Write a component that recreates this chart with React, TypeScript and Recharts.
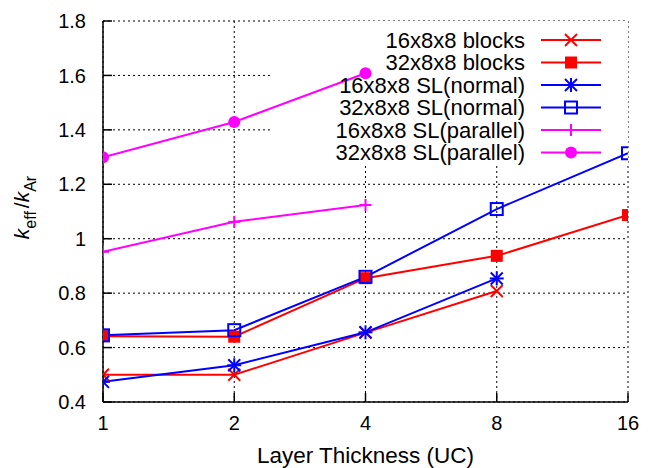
import React from "react"
import { CartesianGrid, Line, LineChart, ReferenceArea, XAxis, YAxis } from "recharts"

// layer thickness in unit cells (log2 axis)
const thickness = [1, 2, 4, 8, 16]
const yTicks = [0.4, 0.6, 0.8, 1.0, 1.2, 1.4, 1.6, 1.8]

// k_eff / k_Ar for each structure
const blocks16 = [0.5, 0.5, 0.655, 0.808]
const blocks32 = [0.642, 0.64, 0.855, 0.937, 1.087]
const slNormal16 = [0.474, 0.535, 0.656, 0.854]
const slNormal32 = [0.645, 0.664, 0.86, 1.109, 1.314]
const slParallel16 = [0.952, 1.062, 1.124]
const slParallel32 = [1.299, 1.429, 1.608]

const RED = "#ff0000"
const BLUE = "#0000ff"
const MAGENTA = "#ff00ff"
const FONT = "'Liberation Sans', Arial, Helvetica, sans-serif"

type MarkerKind = "cross" | "square" | "star" | "openSquare" | "plus" | "circle"

const series: { name: string; values: number[]; color: string; marker: MarkerKind }[] = [
    { name: "16x8x8 blocks", values: blocks16, color: RED, marker: "cross" },
    { name: "32x8x8 blocks", values: blocks32, color: RED, marker: "square" },
    { name: "16x8x8 SL(normal)", values: slNormal16, color: BLUE, marker: "star" },
    { name: "32x8x8 SL(normal)", values: slNormal32, color: BLUE, marker: "openSquare" },
    { name: "16x8x8 SL(parallel)", values: slParallel16, color: MAGENTA, marker: "plus" },
    { name: "32x8x8 SL(parallel)", values: slParallel32, color: MAGENTA, marker: "circle" },
]

// opaque key background (sits under the lines, over the grid)
const KEY_BOX = { x1: 2.42, x2: 16, y1: 1.27, y2: 1.8 }

function Marker({ kind, cx, cy, color }: { kind: MarkerKind; cx: number; cy: number; color: string }) {
    const s = 6
    switch (kind) {
        case "cross":
            return (
                <g stroke={color} strokeWidth={2}>
                    <line x1={cx - s} y1={cy - s} x2={cx + s} y2={cy + s} />
                    <line x1={cx - s} y1={cy + s} x2={cx + s} y2={cy - s} />
                </g>
            )
        case "square":
            return <rect x={cx - s} y={cy - s} width={2 * s} height={2 * s} fill={color} />
        case "star":
            return (
                <g stroke={color} strokeWidth={2}>
                    <line x1={cx - s} y1={cy - s} x2={cx + s} y2={cy + s} />
                    <line x1={cx - s} y1={cy + s} x2={cx + s} y2={cy - s} />
                    <line x1={cx} y1={cy - s - 1} x2={cx} y2={cy + s + 1} />
                    <line x1={cx - s - 1} y1={cy} x2={cx + s + 1} y2={cy} />
                </g>
            )
        case "openSquare":
            return <rect x={cx - s} y={cy - s} width={2 * s} height={2 * s} fill="none" stroke={color} strokeWidth={2} />
        case "plus":
            return (
                <g stroke={color} strokeWidth={2}>
                    <line x1={cx} y1={cy - s} x2={cx} y2={cy + s} />
                    <line x1={cx - s} y1={cy} x2={cx + s} y2={cy} />
                </g>
            )
        case "circle":
            return <circle cx={cx} cy={cy} r={s} fill={color} />
    }
}

const dotFor = (kind: MarkerKind, color: string) => (props: any) => (
    <Marker key={`dot-${props.index}`} kind={kind} cx={props.cx} cy={props.cy} color={color} />
)

const renderYTitle = ({ viewBox }: any) => {
    const cx = viewBox.x + 29
    const cy = viewBox.y + viewBox.height / 2 - 4
    return (
        <text transform={`translate(${cx},${cy}) rotate(-90)`} textAnchor="middle" fontSize={21} fill="#000">
            <tspan fontStyle="italic">k</tspan>
            <tspan fontSize={16} dy={7}>eff</tspan>
            <tspan dx={3} dy={-7}>/</tspan>
            <tspan fontStyle="italic">k</tspan>
            <tspan fontSize={16} dy={7}>Ar</tspan>
        </text>
    )
}

function Key() {
    return (
        <svg width={653} height={468} style={{ position: "absolute", left: 0, top: 0, pointerEvents: "none" }}>
            {series.map((s, i) => {
                const y = 40 + i * 22.5
                return (
                    <g key={s.name}>
                        <text x={525} y={y} dy="0.36em" textAnchor="end" fontSize={22} fill="#000" fontFamily={FONT}>
                            {s.name}
                        </text>
                        <line x1={541} y1={y} x2={601} y2={y} stroke={s.color} strokeWidth={2} />
                        <Marker kind={s.marker} cx={571} cy={y} color={s.color} />
                    </g>
                )
            })}
        </svg>
    )
}

export default function App() {
    const tickStyle = { fill: "#000", fontSize: 20 }
    return (
        <div style={{ position: "absolute", left: 0, top: 0, width: 653, height: 468, background: "#fff", fontFamily: FONT }}>
            <LineChart width={653} height={468} margin={{ top: 21, right: 25, bottom: 4, left: 0 }}>
                <CartesianGrid stroke="#000" strokeDasharray="2 3" strokeWidth={1} />
                <ReferenceArea {...KEY_BOX} fill="#fff" fillOpacity={1} stroke="none" />
                <XAxis
                    dataKey="x"
                    type="number"
                    scale="log"
                    domain={[1, 16]}
                    ticks={thickness}
                    allowDataOverflow
                    height={62}
                    tickSize={-9}
                    tickMargin={23}
                    tick={tickStyle}
                    stroke="#000"
                    strokeWidth={1.5}
                    label={{ value: "Layer Thickness (UC)", position: "insideBottom", offset: 1, fontSize: 22.5, fill: "#000" }}
                />
                <XAxis
                    xAxisId="top"
                    orientation="top"
                    dataKey="x"
                    type="number"
                    scale="log"
                    domain={[1, 16]}
                    ticks={thickness}
                    allowDataOverflow
                    height={0}
                    tickSize={-9}
                    tick={false}
                    stroke="#000"
                    strokeWidth={1.5}
                />
                <YAxis
                    type="number"
                    domain={[0.4, 1.8]}
                    ticks={yTicks}
                    width={103}
                    tickSize={-9}
                    tickMargin={26}
                    tick={tickStyle}
                    tickFormatter={(v: number) => String(Number(v.toFixed(1)))}
                    stroke="#000"
                    strokeWidth={1.5}
                    label={{ content: renderYTitle }}
                />
                <YAxis
                    yAxisId="right"
                    orientation="right"
                    type="number"
                    domain={[0.4, 1.8]}
                    ticks={yTicks}
                    width={0}
                    tickSize={-9}
                    tick={false}
                    stroke="#000"
                    strokeWidth={1.5}
                />
                {series.map((s) => (
                    <Line
                        key={s.name}
                        data={thickness.slice(0, s.values.length).map((x, i) => ({ x, y: s.values[i] }))}
                        dataKey="y"
                        name={s.name}
                        type="linear"
                        stroke={s.color}
                        strokeWidth={2}
                        dot={dotFor(s.marker, s.color)}
                        activeDot={false}
                        isAnimationActive={false}
                    />
                ))}
            </LineChart>
            <Key />
        </div>
    )
}
